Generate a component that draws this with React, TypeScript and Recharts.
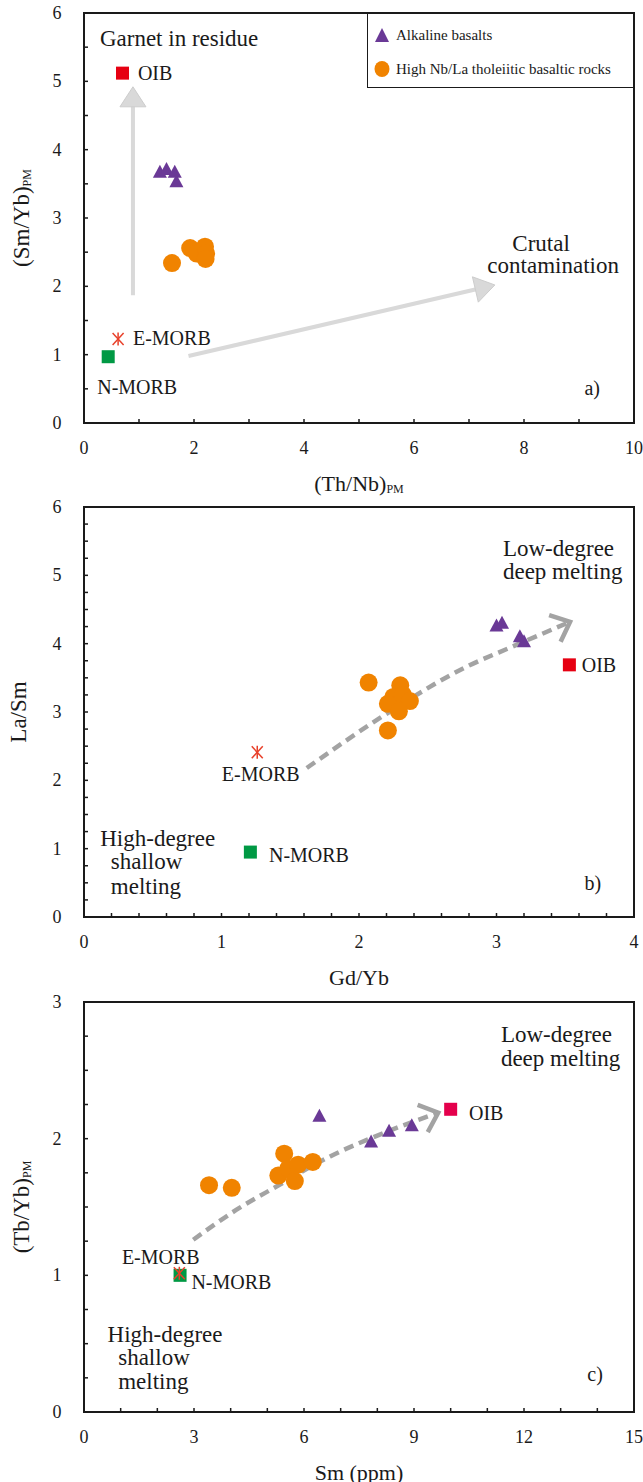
import React from 'react';
import { ScatterChart, Scatter, XAxis, YAxis, ReferenceArea, ReferenceLine, Legend } from 'recharts';

const FONT = '"Liberation Serif", "Times New Roman", Times, serif';
const INK = '#1a1a1a';
const PURPLE = '#6a3996';
const ORANGE = '#f08300';
const RED = '#e60012';
const CRIMSON = '#e4004c';
const GREEN = '#009944';
const STAR = '#e8402a';
const ARROW_LIGHT = '#d9d9d9';
const ARROW_DARK = '#a3a3a3';

const SERIES_NAMES = ['Alkaline basalts', 'High Nb/La tholeiitic basaltic rocks'];
const SERIES_COLORS = [PURPLE, ORANGE];

// ---------------- Panel a: (Th/Nb)PM vs (Sm/Yb)PM ----------------
const alkalineA = [
  { x: 1.38, y: 3.68 }, { x: 1.5, y: 3.72 }, { x: 1.65, y: 3.68 }, { x: 1.68, y: 3.54 },
];
const tholeiiteA = [
  { x: 1.6, y: 2.34 }, { x: 1.93, y: 2.56 }, { x: 2.05, y: 2.48 },
  { x: 2.2, y: 2.58 }, { x: 2.22, y: 2.48 }, { x: 2.21, y: 2.4 },
];
const oibA = [{ x: 0.7, y: 5.12 }];
const emorbA = [{ x: 0.62, y: 1.23 }];
const nmorbA = [{ x: 0.44, y: 0.97 }];
const garnetArrowA = [{ x: 0.89, y: 1.87 }, { x: 0.89, y: 4.92 }];
const crustArrowA = [{ x: 1.9, y: 0.98 }, { x: 7.47, y: 2.02 }];
const regionNotesA = [{ x: 0.29, y: 5.62, text: 'Garnet in residue' }];
const centerNotesA = [
  { x: 8.31, y: 2.63, text: 'Crutal' },
  { x: 8.53, y: 2.3, text: 'contamination' },
];
const pointNotesA = [
  { x: 0.98, y: 5.12, text: 'OIB' },
  { x: 0.89, y: 1.24, text: 'E-MORB' },
  { x: 0.24, y: 0.53, text: 'N-MORB' },
];
const tagNotesA = [{ x: 9.24, y: 0.51, text: 'a)' }];
const xTicksA = [0, 1, 2, 3, 4, 5, 6, 7, 8, 9, 10];
const xLabelsA = [0, 2, 4, 6, 8, 10];
const yTicksA = [0, 0.5, 1, 1.5, 2, 2.5, 3, 3.5, 4, 4.5, 5, 5.5, 6];
const yLabelsA = [0, 1, 2, 3, 4, 5, 6];

// ---------------- Panel b: Gd/Yb vs La/Sm ----------------
const alkalineB = [
  { x: 3.0, y: 4.27 }, { x: 3.04, y: 4.31 }, { x: 3.17, y: 4.11 }, { x: 3.2, y: 4.04 },
];
const tholeiiteB = [
  { x: 2.07, y: 3.43 }, { x: 2.3, y: 3.39 }, { x: 2.25, y: 3.22 }, { x: 2.32, y: 3.25 },
  { x: 2.21, y: 3.12 }, { x: 2.37, y: 3.16 }, { x: 2.29, y: 3.01 }, { x: 2.21, y: 2.73 },
];
const oibB = [{ x: 3.53, y: 3.69 }];
const emorbB = [{ x: 1.26, y: 2.41 }];
const nmorbB = [{ x: 1.21, y: 0.95 }];
const meltTrendB = [
  { x: 1.62, y: 2.18 }, { x: 2.22, y: 3.0 }, { x: 2.78, y: 3.66 }, { x: 3.12, y: 3.96 }, { x: 3.535, y: 4.32 },
];
const regionNotesB = [
  { x: 3.047, y: 5.4, text: 'Low-degree' },
  { x: 3.047, y: 5.06, text: 'deep melting' },
  { x: 0.118, y: 1.15, text: 'High-degree' },
  { x: 0.195, y: 0.81, text: 'shallow' },
  { x: 0.195, y: 0.45, text: 'melting' },
];
const centerNotesB: any[] = [];
const pointNotesB = [
  { x: 3.62, y: 3.69, text: 'OIB' },
  { x: 1.345, y: 0.907, text: 'N-MORB' },
];
const tagNotesB = [
  { x: 1.285, y: 2.1, text: 'E-MORB' },
  { x: 3.7, y: 0.5, text: 'b)' },
];
const xTicksB = [0, 0.2, 0.4, 0.6, 0.8, 1, 1.2, 1.4, 1.6, 1.8, 2, 2.2, 2.4, 2.6, 2.8, 3, 3.2, 3.4, 3.6, 3.8, 4];
const xLabelsB = [0, 1, 2, 3, 4];
const yTicksB = [0, 0.25, 0.5, 0.75, 1, 1.25, 1.5, 1.75, 2, 2.25, 2.5, 2.75, 3, 3.25, 3.5, 3.75, 4, 4.25, 4.5, 4.75, 5, 5.25, 5.5, 5.75, 6];
const yLabelsB = [0, 1, 2, 3, 4, 5, 6];

// ---------------- Panel c: Sm (ppm) vs (Tb/Yb)PM ----------------
const alkalineC = [
  { x: 6.42, y: 2.17 }, { x: 7.83, y: 1.98 }, { x: 8.32, y: 2.06 }, { x: 8.94, y: 2.1 },
];
const tholeiiteC = [
  { x: 3.41, y: 1.66 }, { x: 4.03, y: 1.64 }, { x: 5.46, y: 1.89 }, { x: 5.3, y: 1.73 },
  { x: 5.57, y: 1.78 }, { x: 5.75, y: 1.69 }, { x: 5.84, y: 1.81 }, { x: 6.24, y: 1.83 },
];
const oibC = [{ x: 10.0, y: 2.215 }];
const emorbC = [{ x: 2.6, y: 1.015 }];
const nmorbC = [{ x: 2.62, y: 1.0 }];
const meltTrendC = [
  { x: 2.98, y: 1.26 }, { x: 4.16, y: 1.48 }, { x: 5.25, y: 1.65 }, { x: 6.71, y: 1.87 },
  { x: 8.16, y: 2.04 }, { x: 9.66, y: 2.19 },
];
const regionNotesC = [
  { x: 11.37, y: 2.76, text: 'Low-degree' },
  { x: 11.37, y: 2.59, text: 'deep melting' },
  { x: 0.643, y: 0.568, text: 'High-degree' },
  { x: 0.933, y: 0.4, text: 'shallow' },
  { x: 0.933, y: 0.222, text: 'melting' },
];
const centerNotesC: any[] = [];
const pointNotesC = [
  { x: 10.5, y: 2.19, text: 'OIB' },
  { x: 1.034, y: 1.136, text: 'E-MORB' },
  { x: 2.93, y: 0.953, text: 'N-MORB' },
];
const tagNotesC = [{ x: 13.94, y: 0.278, text: 'c)' }];
const xTicksC = [0, 1, 2, 3, 4, 5, 6, 7, 8, 9, 10, 11, 12, 13, 14, 15];
const xLabelsC = [0, 3, 6, 9, 12, 15];
const yTicksC = [0, 0.25, 0.5, 0.75, 1, 1.25, 1.5, 1.75, 2, 2.25, 2.5, 2.75, 3];
const yLabelsC = [0, 1, 2, 3];

// ---------------- shapes ----------------
const triShape = (color: string) => (p: any) => (
  <polygon
    points={`${p.cx},${p.cy - 6.8} ${p.cx + 7},${p.cy + 6.2} ${p.cx - 7},${p.cy + 6.2}`}
    fill={color}
  />
);
const circleShape = (color: string) => (p: any) => <circle cx={p.cx} cy={p.cy} r={9} fill={color} />;
const squareShape = (color: string) => (p: any) => (
  <rect x={p.cx - 6.5} y={p.cy - 6.5} width={13} height={13} fill={color} />
);
const starShape = (color: string) => (p: any) => (
  <g stroke={color} strokeWidth={1.5}>
    <line x1={p.cx - 5.5} y1={p.cy - 6} x2={p.cx + 5.5} y2={p.cy + 6} />
    <line x1={p.cx + 5.5} y1={p.cy - 6} x2={p.cx - 5.5} y2={p.cy + 6} />
    <line x1={p.cx} y1={p.cy - 6.5} x2={p.cx} y2={p.cy + 6.5} />
  </g>
);
const noShape = () => <g />;
const textShape = (size: number, anchor: string) => (p: any) => (
  <text
    x={p.cx}
    y={p.cy}
    textAnchor={anchor}
    dominantBaseline="central"
    fontFamily={FONT}
    fontSize={size}
    fill={INK}
  >
    {p.payload.text}
  </text>
);

const SolidArrow = (p: any) => {
  const { x1, y1, x2, y2 } = p;
  const a = Math.atan2(y2 - y1, x2 - x1);
  const L = 20;
  const W = 13;
  const bx = x2 - L * Math.cos(a);
  const by = y2 - L * Math.sin(a);
  const nx = -Math.sin(a);
  const ny = Math.cos(a);
  return (
    <g>
      <line x1={x1} y1={y1} x2={bx + 2 * Math.cos(a)} y2={by + 2 * Math.sin(a)} stroke={ARROW_LIGHT} strokeWidth={4} />
      <polygon
        points={`${x2},${y2} ${bx + nx * W},${by + ny * W} ${bx - nx * W},${by - ny * W}`}
        fill={ARROW_LIGHT}
        stroke="#cdcdcd"
        strokeWidth={1}
      />
    </g>
  );
};

const ChevronHead = (p: any) => {
  const { x1, y1, x2, y2 } = p;
  const a = Math.atan2(y2 - y1, x2 - x1);
  const L = 22;
  const h = 0.72;
  const q1 = [x2 - L * Math.cos(a - h), y2 - L * Math.sin(a - h)];
  const q2 = [x2 - L * Math.cos(a + h), y2 - L * Math.sin(a + h)];
  return (
    <polyline
      points={`${q1[0]},${q1[1]} ${x2},${y2} ${q2[0]},${q2[1]}`}
      fill="none"
      stroke={ARROW_DARK}
      strokeWidth={4.5}
    />
  );
};

const near = (list: number[], v: number) => list.some((l) => Math.abs(l - v) < 1e-9);

const makeXTick = (labels: number[]) => (p: any) => {
  const { x, y, payload } = p;
  const v = payload.value;
  return (
    <g>
      <line x1={x} y1={y} x2={x} y2={y - 4} stroke={INK} strokeWidth={1.5} />
      {near(labels, v) ? (
        <text x={x} y={y + 25} textAnchor="middle" dominantBaseline="central" fontFamily={FONT} fontSize={18} fill={INK}>
          {v}
        </text>
      ) : null}
    </g>
  );
};

// y ticks; the tick at the middle of the domain also carries the rotated axis title
const makeYTick = (labels: number[], mid: number, title: any) => (p: any) => {
  const { x, y, payload } = p;
  const v = payload.value;
  const tx = title.x;
  return (
    <g>
      <line x1={x} y1={y} x2={x + 4} y2={y} stroke={INK} strokeWidth={1.5} />
      {near(labels, v) ? (
        <text x={x - 27} y={y} textAnchor="middle" dominantBaseline="central" fontFamily={FONT} fontSize={18} fill={INK}>
          {v}
        </text>
      ) : null}
      {Math.abs(v - mid) < 1e-9 ? (
        <text
          transform={`rotate(-90 ${tx} ${y})`}
          x={tx}
          y={y}
          textAnchor="middle"
          dominantBaseline="central"
          fontFamily={FONT}
          fontSize={23}
          fill={INK}
        >
          {title.main}
          {title.sub ? (
            <tspan fontSize={12} dy={6}>
              {title.sub}
            </tspan>
          ) : null}
        </text>
      ) : null}
    </g>
  );
};

const XTitle = (props: any) => (
  <text x={props.cx} y={props.cy} textAnchor="middle" dominantBaseline="central" fontFamily={FONT} fontSize={22} fill={INK}>
    {props.main}
    {props.sub ? (
      <tspan fontSize={12} dy={6}>
        {props.sub}
      </tspan>
    ) : null}
  </text>
);

const LegendBox = (props: any) => {
  const payload = (props.payload || []).filter((e: any) => SERIES_NAMES.indexOf(e.value) >= 0);
  return (
    <div
      style={{
        position: 'relative',
        width: 267,
        height: 75,
        border: `1.5px solid ${INK}`,
        boxSizing: 'border-box',
        background: '#fff',
        fontFamily: FONT,
        fontSize: 15,
        color: INK,
      }}
    >
      {payload.map((e: any) => {
        const i = SERIES_NAMES.indexOf(e.value);
        return (
          <div
            key={e.value}
            style={{
              position: 'absolute',
              left: 6,
              top: (i === 0 ? 22 : 56) - 11,
              height: 20,
              display: 'flex',
              alignItems: 'center',
              whiteSpace: 'nowrap',
            }}
          >
            <svg width={16} height={16} style={{ marginRight: 6, display: 'block' }}>
              {i === 0 ? (
                <polygon points="8,1 15,15 1,15" fill={SERIES_COLORS[i]} />
              ) : (
                <ellipse cx={8} cy={8} rx={7.5} ry={8} fill={SERIES_COLORS[i]} />
              )}
            </svg>
            <span>{e.value}</span>
          </div>
        );
      })}
    </div>
  );
};

function Panel(p: any) {
  const plotBottom = 494 - p.bottom - 60;
  const yMid = (p.yDomain[0] + p.yDomain[1]) / 2;
  return (
    <ScatterChart width={643} height={494} margin={{ top: p.top, right: 9, bottom: p.bottom, left: 24 }}>
      <XAxis
        type="number"
        dataKey="x"
        domain={p.xDomain}
        ticks={p.xTicks}
        interval={0}
        tickSize={0}
        tickMargin={0}
        tickLine={false}
        axisLine={false}
        tick={makeXTick(p.xLabels)}
        height={60}
        allowDataOverflow
        label={<XTitle main={p.xMain} sub={p.xSub} cx={359} cy={plotBottom + 60} />}
      />
      <YAxis
        type="number"
        dataKey="y"
        domain={p.yDomain}
        ticks={p.yTicks}
        interval={0}
        tickSize={0}
        tickMargin={0}
        tickLine={false}
        axisLine={false}
        tick={makeYTick(p.yLabels, yMid, { x: p.yTitleX, main: p.yMain, sub: p.ySub })}
        width={60}
        allowDataOverflow
      />
      <ReferenceArea
        x1={p.xDomain[0]}
        x2={p.xDomain[1]}
        y1={p.yDomain[0]}
        y2={p.yDomain[1]}
        fill="none"
        fillOpacity={0}
        stroke={INK}
        strokeWidth={2}
        ifOverflow="visible"
      />
      {p.solidArrows
        ? p.solidArrows.map((seg: any, i: number) => (
            <ReferenceLine key={'sa' + i} segment={seg} shape={SolidArrow} ifOverflow="visible" />
          ))
        : null}
      {p.trend ? (
        <Scatter
          name="trend"
          data={p.trend}
          line={{ stroke: ARROW_DARK, strokeWidth: 4.5, strokeDasharray: '10 6' }}
          lineJointType="monotoneX"
          shape={noShape}
          legendType="none"
          isAnimationActive={false}
        />
      ) : null}
      {p.trend ? (
        <ReferenceLine
          segment={[p.trend[p.trend.length - 2], p.trend[p.trend.length - 1]]}
          shape={ChevronHead}
          ifOverflow="visible"
        />
      ) : null}
      <Scatter name={SERIES_NAMES[0]} data={p.alkaline} fill={PURPLE} shape={triShape(PURPLE)} legendType="triangle" isAnimationActive={false} />
      <Scatter name={SERIES_NAMES[1]} data={p.tholeiite} fill={ORANGE} shape={circleShape(ORANGE)} legendType="circle" isAnimationActive={false} />
      <Scatter name="OIB" data={p.oib} shape={squareShape(p.oibColor)} legendType="none" isAnimationActive={false} />
      <Scatter name="N-MORB" data={p.nmorb} shape={squareShape(GREEN)} legendType="none" isAnimationActive={false} />
      <Scatter name="E-MORB" data={p.emorb} shape={starShape(STAR)} legendType="none" isAnimationActive={false} />
      <Scatter name="notes1" data={p.regionNotes} shape={textShape(23, 'start')} legendType="none" isAnimationActive={false} />
      <Scatter name="notes2" data={p.centerNotes} shape={textShape(23, 'middle')} legendType="none" isAnimationActive={false} />
      <Scatter name="notes3" data={p.pointNotes} shape={textShape(20, 'start')} legendType="none" isAnimationActive={false} />
      <Scatter name="notes4" data={p.tagNotes} shape={textShape(20, 'middle')} legendType="none" isAnimationActive={false} />
      {p.legend ? (
        <Legend
          layout="vertical"
          align="center"
          verticalAlign="middle"
          content={LegendBox}
          wrapperStyle={{ left: 367, top: 13, width: 267, height: 75 }}
        />
      ) : null}
    </ScatterChart>
  );
}

export default function App() {
  return (
    <div style={{ position: 'absolute', left: 0, top: 0, width: 643, height: 1482, background: '#fff' }}>
      <style>{'.recharts-surface{overflow:visible}'}</style>
      <Panel
        top={13}
        bottom={11}
        xDomain={[0, 10]}
        yDomain={[0, 6]}
        xTicks={xTicksA}
        xLabels={xLabelsA}
        yTicks={yTicksA}
        yLabels={yLabelsA}
        xMain="(Th/Nb)"
        xSub="PM"
        yMain="(Sm/Yb)"
        ySub="PM"
        yTitleX={21}
        alkaline={alkalineA}
        tholeiite={tholeiiteA}
        oib={oibA}
        oibColor={RED}
        emorb={emorbA}
        nmorb={nmorbA}
        solidArrows={[garnetArrowA, crustArrowA]}
        regionNotes={regionNotesA}
        centerNotes={centerNotesA}
        pointNotes={pointNotesA}
        tagNotes={tagNotesA}
        legend
      />
      <Panel
        top={13}
        bottom={11}
        xDomain={[0, 4]}
        yDomain={[0, 6]}
        xTicks={xTicksB}
        xLabels={xLabelsB}
        yTicks={yTicksB}
        yLabels={yLabelsB}
        xMain="Gd/Yb"
        yMain="La/Sm"
        yTitleX={18}
        alkaline={alkalineB}
        tholeiite={tholeiiteB}
        oib={oibB}
        oibColor={RED}
        emorb={emorbB}
        nmorb={nmorbB}
        trend={meltTrendB}
        regionNotes={regionNotesB}
        centerNotes={centerNotesB}
        pointNotes={pointNotesB}
        tagNotes={tagNotesB}
      />
      <Panel
        top={14}
        bottom={10}
        xDomain={[0, 15]}
        yDomain={[0, 3]}
        xTicks={xTicksC}
        xLabels={xLabelsC}
        yTicks={yTicksC}
        yLabels={yLabelsC}
        xMain="Sm (ppm)"
        yMain="(Tb/Yb)"
        ySub="PM"
        yTitleX={21}
        alkaline={alkalineC}
        tholeiite={tholeiiteC}
        oib={oibC}
        oibColor={CRIMSON}
        emorb={emorbC}
        nmorb={nmorbC}
        trend={meltTrendC}
        regionNotes={regionNotesC}
        centerNotes={centerNotesC}
        pointNotes={pointNotesC}
        tagNotes={tagNotesC}
      />
    </div>
  );
}
